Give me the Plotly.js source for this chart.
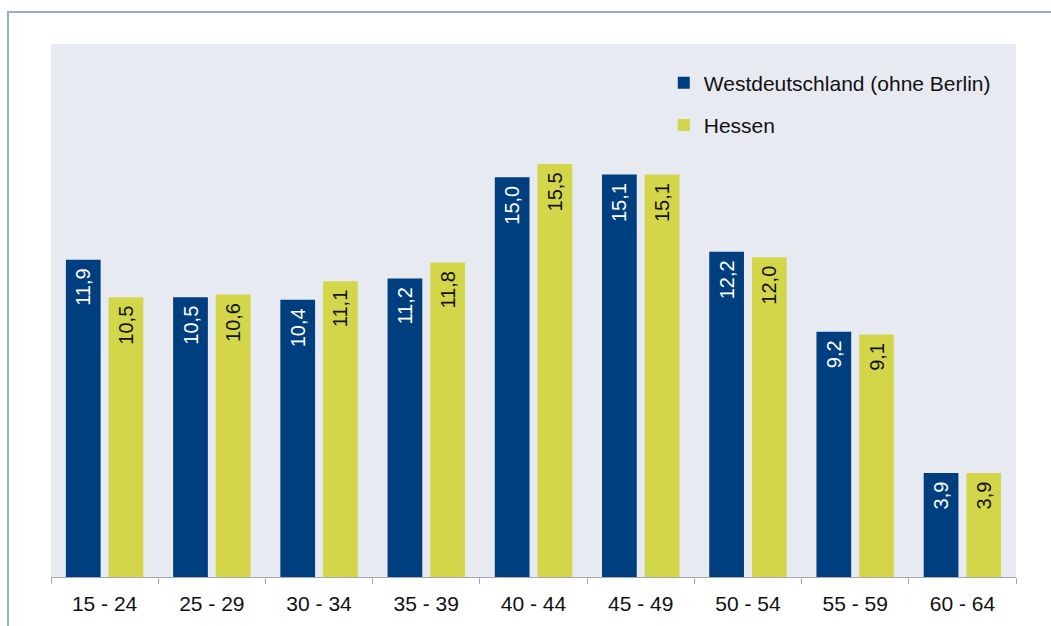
<!DOCTYPE html>
<html>
<head>
<meta charset="utf-8">
<script src="https://cdn.plot.ly/plotly-3.0.1.min.js"></script>
<style>
  html, body { margin: 0; padding: 0; background: #ffffff; }
  #wrap { position: relative; width: 1051px; height: 626px; }
  #chart { position: absolute; left: 0; top: 0; width: 1051px; height: 626px; }
  #frame { position: absolute; left: 7px; top: 11px; width: 1060px; height: 630px;
           border-left: 2px solid #9AADCF; border-top: 2px solid #9AADCF; pointer-events: none; }
</style>
</head>
<body>
<div id="wrap">
  <div id="chart"></div>
  <div id="frame"></div>
</div>
<script>
const categories = ["15 - 24", "25 - 29", "30 - 34", "35 - 39", "40 - 44", "45 - 49", "50 - 54", "55 - 59", "60 - 64"];
const westValues = [11.9, 10.5, 10.4, 11.2, 15.0, 15.1, 12.2, 9.2, 3.9];
const hessenValues = [10.5, 10.6, 11.1, 11.8, 15.5, 15.1, 12.0, 9.1, 3.9];
const seriesNames = ["Westdeutschland (ohne Berlin)", "Hessen"];

const fmt = v => v.toFixed(1).replace(".", ",");
const FONT = "Liberation Sans, Arial, sans-serif";

const traces = [
  {
    type: "bar", name: seriesNames[0], x: categories, y: westValues,
    text: westValues.map(fmt), texttemplate: "%{text}\u00a0",
    textposition: "inside", insidetextanchor: "end", textangle: -90,
    insidetextfont: { family: FONT, size: 20, color: "#ffffff" },
    marker: { color: "#003F7F", line: { width: 0 } },
    width: 0.324, offset: -0.361,
    legendgroup: "a", hoverinfo: "x+y"
  },
  {
    type: "bar", name: seriesNames[1], x: categories, y: hessenValues,
    text: hessenValues.map(fmt), texttemplate: "%{text}\u00a0",
    textposition: "inside", insidetextanchor: "end", textangle: -90,
    insidetextfont: { family: FONT, size: 20, color: "#111111" },
    marker: { color: "#D4D64A", line: { width: 0 } },
    width: 0.324, offset: 0.037,
    legendgroup: "b", hoverinfo: "x+y"
  }
];

const layout = {
  width: 1051, height: 626,
  margin: { l: 51, r: 35, t: 44, b: 49, pad: 0 },
  paper_bgcolor: "rgba(0,0,0,0)",
  plot_bgcolor: "#E8EAF2",
  font: { family: FONT, size: 20, color: "#111111" },
  barmode: "group",
  showlegend: true,
  legend: {
    x: 0.635, xanchor: "left", y: 0.965, yanchor: "top",
    bgcolor: "rgba(0,0,0,0)", borderwidth: 0,
    font: { family: FONT, size: 21, color: "#111111" },
    tracegroupgap: 12, traceorder: "grouped"
  },
  xaxis: {
    type: "category",
    showgrid: false, zeroline: false,
    showline: true, linecolor: "#A8A8B0", linewidth: 1,
    ticks: "outside", tickson: "boundaries", ticklen: 6, tickcolor: "#A8A8B0", tickwidth: 1,
    ticklabelstandoff: 8,
    tickfont: { family: FONT, size: 21, color: "#111111" },
    fixedrange: true
  },
  yaxis: {
    range: [0, 20],
    showgrid: false, zeroline: false, showline: false,
    showticklabels: false, ticks: "",
    fixedrange: true
  }
};

Plotly.newPlot("chart", traces, layout, { displayModeBar: false, staticPlot: true });
</script>
</body>
</html>
